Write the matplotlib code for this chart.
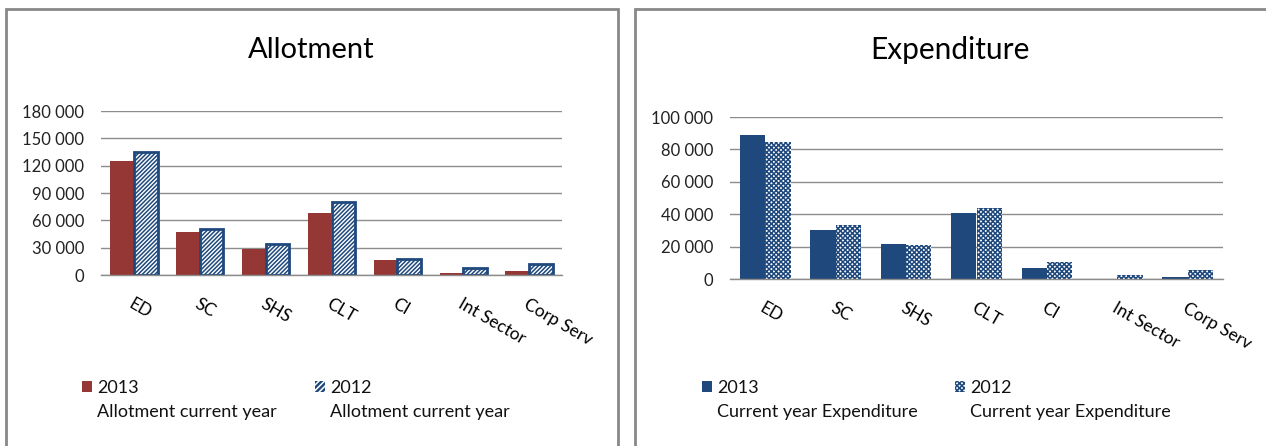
import matplotlib
matplotlib.use("Agg")
import matplotlib.pyplot as plt
from matplotlib.patches import Rectangle
from matplotlib.ticker import FuncFormatter, MultipleLocator

plt.rcParams['font.family'] = ['Lato', 'DejaVu Sans']
plt.rcParams['hatch.linewidth'] = 1.1

# data
categories = ['ED', 'SC', 'SHS', 'CLT', 'CI', 'Int Sector', 'Corp Serv']
allot_2013 = [125500, 47500, 28200, 67700, 16500, 1800, 4000]
allot_2012 = [135300, 50100, 34000, 80500, 17600, 7300, 12000]
exp_2013 = [89000, 30400, 21600, 40700, 6600, 0, 1000]
exp_2012 = [84300, 33500, 21000, 43800, 10500, 2500, 5700]

red = '#953735'
navy = '#1F497D'
grid_col = '#8C8C8C'
W, H = 1266, 446

fig = plt.figure(figsize=(W / 100, H / 100), dpi=100)


def px(x, y):
    """pixel (from top-left) -> figure fraction"""
    return x / W, 1 - y / H


def thousands(v, pos):
    return '{:,.0f}'.format(v).replace(',', ' ')


def panel(x0, y0, x1, y1):
    fig.add_artist(Rectangle(px(x0, y1), (x1 - x0) / W, (y1 - y0) / H,
                             transform=fig.transFigure, fill=False,
                             edgecolor='#888888', linewidth=2))


def bar_chart(rect, v13, v12, ymax, step, style13, style12):
    ax = fig.add_axes(rect)
    xs = range(len(categories))
    w = 0.36
    ax.bar([x - w / 2 for x in xs], v13, w, **style13)
    ax.bar([x + w / 2 for x in xs], v12, w, **style12)
    ax.set_xlim(-0.5, len(categories) - 0.5)
    ax.set_ylim(0, ymax)
    ax.yaxis.set_major_locator(MultipleLocator(step))
    ax.yaxis.set_major_formatter(FuncFormatter(thousands))
    ax.grid(axis='y', color=grid_col, linewidth=1)
    ax.set_axisbelow(True)
    for s in ['top', 'right', 'left']:
        ax.spines[s].set_visible(False)
    ax.spines['bottom'].set_color(grid_col)
    ax.spines['bottom'].set_linewidth(1)
    ax.tick_params(axis='y', length=0, pad=12, labelsize=12, labelcolor='#222222')
    ax.tick_params(axis='x', length=0, pad=15, labelsize=12.5)
    ax.set_xticks(list(xs))
    ax.set_xticklabels(categories, rotation=-30, ha='left', va='top',
                       rotation_mode='anchor')
    return ax


def legend_entry(x, y, style, year, text):
    fig.add_artist(Rectangle(px(x, y + 11), 10 / W, 11 / H,
                             transform=fig.transFigure, **style))
    fx, fy = px(x + 15, y + 12)
    fig.text(fx, fy, year, fontsize=13, ha='left', va='baseline', color='#111111')
    fx, fy = px(x + 15, y + 36)
    fig.text(fx, fy, text, fontsize=13, ha='left', va='baseline', color='#111111')


# left panel: Allotment
panel(6, 9, 618, 460)
style_a13 = dict(color=red, linewidth=0)
style_a12 = dict(facecolor='white', edgecolor=navy, linewidth=2.0, hatch='/' * 8)
bar_chart([101 / W, 1 - 275 / H, 461 / W, 164 / H],
          allot_2013, allot_2012, 180000, 30000, style_a13, style_a12)
tx, ty = px(311, 50)
fig.text(tx, ty, 'Allotment', fontsize=21, ha='center', va='center')
legend_entry(82, 381, dict(facecolor=red, linewidth=0), '2013', 'Allotment current year')
legend_entry(315, 381, dict(facecolor=navy, edgecolor='white', linewidth=0, hatch='/' * 6),
             '2012', 'Allotment current year')

# right panel: Expenditure
panel(635, 9, 1300, 460)
style_e13 = dict(color=navy, linewidth=0)
style_e12 = dict(facecolor='white', edgecolor=navy, linewidth=0, hatch='x' * 7)
bar_chart([730 / W, 1 - 279 / H, 493 / W, 162 / H],
          exp_2013, exp_2012, 100000, 20000, style_e13, style_e12)
tx, ty = px(950, 50)
fig.text(tx, ty, 'Expenditure', fontsize=21.5, ha='center', va='center')
legend_entry(702, 381, dict(facecolor=navy, linewidth=0), '2013', 'Current year Expenditure')
legend_entry(955, 381, dict(facecolor='white', edgecolor=navy, linewidth=0, hatch='x' * 7),
             '2012', 'Current year Expenditure')

fig.savefig('out.png', dpi=100)
